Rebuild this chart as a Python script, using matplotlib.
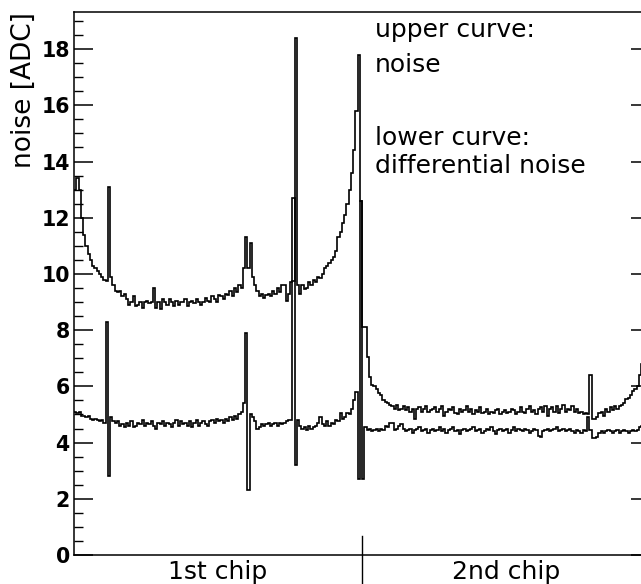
import numpy as np
import matplotlib
matplotlib.use("Agg")
import matplotlib.pyplot as plt
from matplotlib.ticker import MultipleLocator

W, H = 641, 584

# strip noise per channel, 2 chips x 128 channels
noise = [
    13.0, 13.4, 13.0, 12.0, 11.4, 11.0, 10.7, 10.5, 10.3, 10.2, 10.1, 10.0, 9.9, 9.8, 9.75, 13.1,
    9.9, 9.6, 9.4, 9.35, 9.4, 9.2, 9.3, 9.1, 8.9, 9.0, 9.2, 8.85, 8.9, 9.0, 8.8, 9.0,
    9.05, 8.95, 9.0, 9.5, 8.8, 9.0, 8.75, 9.1, 9.0, 8.9, 9.1, 9.0, 8.85, 9.05, 8.9, 9.0,
    9.0, 9.1, 8.85, 9.0, 9.05, 8.95, 9.1, 9.0, 8.9, 9.0, 9.15, 9.05, 9.0, 9.2, 9.1, 9.0,
    9.25, 9.2, 9.1, 9.3, 9.25, 9.4, 9.2, 9.5, 9.35, 9.6, 9.5, 10.2, 11.3, 10.2, 11.1, 9.9,
    9.6, 9.4, 9.2, 9.3, 9.15, 9.25, 9.3, 9.2, 9.4, 9.3, 9.5, 9.35, 9.6, 9.6, 9.05, 9.3,
    9.7, 9.75, 18.4, 9.6, 9.3, 9.6, 9.45, 9.5, 9.7, 9.6, 9.8, 9.7, 9.9, 9.85, 10.0, 10.2,
    10.3, 10.4, 10.5, 10.6, 10.8, 11.3, 11.5, 11.8, 12.1, 12.5, 13.0, 13.6, 14.4, 15.8, 17.8, 12.6,
    8.1, 8.1, 7.05, 6.35, 6.05, 6.0, 5.9, 5.75, 5.7, 5.5, 5.45, 5.4, 5.35, 5.3, 5.2, 5.35,
    5.15, 5.2, 5.3, 5.15, 5.25, 5.1, 5.2, 4.85, 5.2, 5.25, 5.1, 5.2, 5.3, 5.1, 5.15, 5.2,
    5.25, 5.1, 5.2, 5.3, 4.95, 5.1, 5.2, 5.15, 5.25, 5.05, 5.0, 5.2, 5.1, 5.15, 5.3, 5.1,
    5.2, 5.0, 5.15, 5.1, 5.25, 5.05, 5.1, 5.2, 5.0, 5.1, 5.05, 5.15, 5.2, 5.0, 5.1, 5.15,
    5.05, 5.1, 5.2, 5.15, 5.0, 5.1, 5.25, 5.1, 5.05, 5.2, 5.3, 5.1, 5.15, 5.0, 5.2, 5.25,
    5.1, 5.3, 4.95, 5.2, 5.25, 5.1, 5.3, 5.05, 5.2, 5.35, 5.1, 5.2, 5.15, 5.3, 5.1, 5.2,
    5.05, 5.1, 5.0, 5.05, 5.0, 6.4, 4.85, 4.85, 4.9, 5.05, 5.1, 4.95, 5.2, 5.1, 5.25, 5.15,
    5.3, 5.2, 5.3, 5.35, 5.4, 5.55, 5.6, 5.7, 5.85, 5.9, 6.0, 6.4, 6.8, 7.2, 7.6, 8.0,
]

diff_noise = [
    5.1, 5.05, 5.1, 4.95, 4.95, 4.9, 4.95, 4.85, 4.8, 4.85, 4.8, 4.75, 4.8, 4.7, 8.3, 2.8,
    4.9, 4.75, 4.7, 4.75, 4.6, 4.65, 4.55, 4.7, 4.6, 4.75, 4.55, 4.6, 4.7, 4.65, 4.8, 4.6,
    4.7, 4.65, 4.75, 4.6, 4.5, 4.7, 4.65, 4.75, 4.6, 4.7, 4.65, 4.55, 4.7, 4.8, 4.6, 4.75,
    4.65, 4.7, 4.6, 4.75, 4.55, 4.7, 4.8, 4.6, 4.7, 4.75, 4.65, 4.6, 4.75, 4.8, 4.7, 4.85,
    4.75, 4.8, 4.7, 4.85, 4.75, 4.9, 4.8, 4.95, 4.85, 5.0, 5.1, 5.4, 7.9, 2.3, 5.0, 4.9,
    4.75, 4.5, 4.55, 4.65, 4.6, 4.65, 4.7, 4.6, 4.65, 4.7, 4.6, 4.7, 4.65, 4.7, 4.75, 4.8,
    4.8, 12.7, 3.2, 4.8, 4.6, 4.5, 4.55, 4.45, 4.6, 4.5, 4.55, 4.6, 4.7, 4.9, 4.65, 4.6,
    4.75, 4.6, 4.7, 4.65, 4.8, 4.75, 5.05, 4.85, 4.9, 5.05, 5.0, 5.2, 5.5, 5.8, 2.7, 12.6,
    2.7, 4.55, 4.45, 4.5, 4.4, 4.45, 4.5, 4.4, 4.5, 4.45, 4.6, 4.55, 4.7, 4.7, 4.45, 4.5,
    4.6, 4.65, 4.5, 4.4, 4.45, 4.5, 4.35, 4.45, 4.5, 4.55, 4.4, 4.45, 4.5, 4.35, 4.45, 4.5,
    4.4, 4.45, 4.55, 4.4, 4.5, 4.35, 4.45, 4.5, 4.55, 4.4, 4.45, 4.3, 4.45, 4.5, 4.4, 4.45,
    4.5, 4.55, 4.4, 4.45, 4.5, 4.35, 4.4, 4.5, 4.45, 4.55, 4.4, 4.3, 4.45, 4.5, 4.4, 4.45,
    4.5, 4.35, 4.45, 4.55, 4.4, 4.5, 4.45, 4.4, 4.5, 4.45, 4.35, 4.4, 4.5, 4.45, 4.25, 4.2,
    4.4, 4.45, 4.5, 4.4, 4.45, 4.5, 4.55, 4.4, 4.45, 4.5, 4.4, 4.45, 4.5, 4.4, 4.35, 4.45,
    4.4, 4.35, 4.45, 4.4, 4.9, 4.45, 4.15, 4.15, 4.2, 4.35, 4.4, 4.35, 4.4, 4.45, 4.4, 4.35,
    4.4, 4.45, 4.35, 4.4, 4.45, 4.4, 4.35, 4.4, 4.45, 4.4, 4.45, 4.55, 4.6, 4.6, 4.65, 4.7,
]

chip_labels = ["1st chip", "2nd chip"]
chip_size = 128
y_max = 19.32

edges = np.arange(len(noise) + 1)

fig = plt.figure(figsize=(W / 100, H / 100), dpi=100)
ax = fig.add_axes([74 / W, (H - 555) / H, 576 / W, 543 / H])

ax.stairs(noise, edges, color="black", linewidth=1.2, baseline=None)
ax.stairs(diff_noise, edges, color="black", linewidth=1.2, baseline=None)

ax.set_xlim(0, len(noise))
ax.set_ylim(0, y_max)
ax.yaxis.set_major_locator(MultipleLocator(2))
ax.yaxis.set_minor_locator(MultipleLocator(0.5))
ax.set_xticks([])
ax.tick_params(axis="y", which="major", direction="in", length=13.7, width=1.1,
               right=True, pad=3, labelsize=14.8)
ax.tick_params(axis="y", which="minor", direction="in", length=6.5, width=1.0, right=True)
for lab in ax.get_yticklabels():
    lab.set_fontweight("bold")
for sp in ax.spines.values():
    sp.set_linewidth(1.1)

# chip boundary tick
trans = ax.get_xaxis_transform()
ax.plot([chip_size, chip_size], [-0.06, 0.035], color="black", linewidth=1.0,
        transform=trans, clip_on=False)
for i, lab in enumerate(chip_labels):
    ax.text(chip_size * i + chip_size / 2, -0.009, lab, transform=trans,
            ha="center", va="top", fontsize=18, fontweight="medium")

fig.text(24 / W, 1 - 12 / H, "noise [ADC]", rotation=90, ha="center", va="top",
         fontsize=19)

notes = ["upper curve:", "noise", "lower curve:", "differential noise"]
note_base = [37, 72, 145, 173]
for txt, yb in zip(notes, note_base):
    fig.text(375 / W, 1 - yb / H, txt, ha="left", va="baseline", fontsize=18)

fig.savefig("out.png", dpi=100)
